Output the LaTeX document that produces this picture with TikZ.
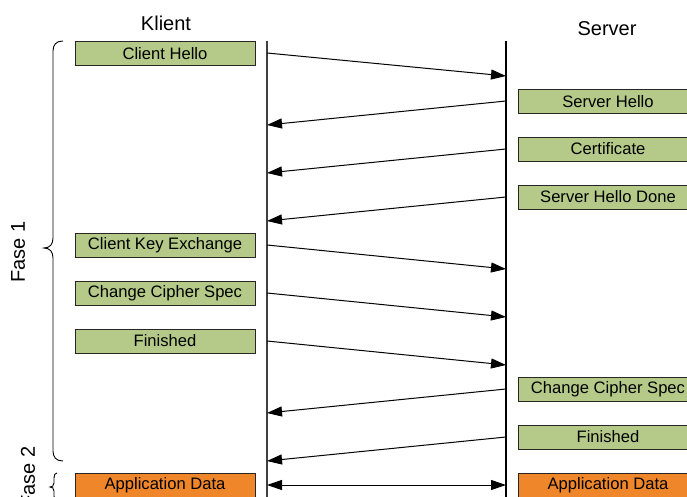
\documentclass[tikz,border=0pt]{standalone}
\usepackage{fontspec}
\setmainfont{Liberation Sans}
\usetikzlibrary{arrows.meta}
\definecolor{boxgreen}{HTML}{B5CA88}
\definecolor{boxorange}{HTML}{F0862A}
\begin{document}
\begin{tikzpicture}[x=1pt,y=-1pt,
  msgbox/.style={draw=black!85,line width=0.9pt,minimum width=180pt,minimum height=24pt,inner sep=0pt,font=\fontsize{16.6}{18}\selectfont},
  gbox/.style={msgbox,fill=boxgreen},
  obox/.style={msgbox,fill=boxorange},
  actor/.style={font=\fontsize{20}{22}\selectfont,anchor=base},
  msg/.style={line width=1pt,-{Triangle[length=15pt,width=10pt]}},
  life/.style={line width=1.1pt},
  brc/.style={line width=0.9pt},
  fase/.style={font=\fontsize{20}{22}\selectfont,rotate=90}]
\clip (0,0) rectangle (687,497);
\fill[white] (0,0) rectangle (687,497);
% actors
\node[actor] (klient) at (166,31) {Klient};
\node[actor] (server) at (607,36) {Server};
% lifelines
\coordinate (ktop) at (267,41);
\coordinate (kbot) at (267,500);
\coordinate (stop) at (506,41);
\coordinate (sbot) at (506,500);
\draw[life,black!75] (ktop) -- (kbot);
\draw[life] (stop) -- (sbot);
% client boxes
\node[gbox] (ch) at (165,53.5) {Client Hello};
\node[gbox] (cke) at (165,245) {Client Key Exchange};
\node[gbox] (ccs) at (165,293) {Change Cipher Spec};
\node[gbox] (cfin) at (165,341) {Finished};
\node[obox] (cad) at (165,485) {Application Data};
% server boxes
\node[gbox] (sh) at (608,101.5) {Server Hello};
\node[gbox] (cert) at (608,149) {Certificate};
\node[gbox] (shd) at (608,197) {Server Hello Done};
\node[gbox] (sccs) at (608,389.5) {Change Cipher Spec};
\node[gbox] (sfin) at (608,437) {Finished};
\node[obox] (sad) at (608,485) {Application Data};
% message endpoints
\coordinate (a1) at (267,53);  \coordinate (b1) at (506,76);
\coordinate (a2) at (506,101); \coordinate (b2) at (267,125);
\coordinate (a3) at (506,149); \coordinate (b3) at (267,173);
\coordinate (a4) at (506,197); \coordinate (b4) at (267,221);
\coordinate (a5) at (267,245); \coordinate (b5) at (506,269);
\coordinate (a6) at (267,293); \coordinate (b6) at (506,317);
\coordinate (a7) at (267,341); \coordinate (b7) at (506,365);
\coordinate (a8) at (506,389); \coordinate (b8) at (267,413);
\coordinate (a9) at (506,437); \coordinate (b9) at (267,461);
\coordinate (a10) at (267,485); \coordinate (b10) at (506,485);
\foreach \i in {1,...,9} {\draw[msg] (a\i) -- (b\i);}
\draw[line width=1pt,{Triangle[length=15pt,width=10pt]}-{Triangle[length=15pt,width=10pt]}] (a10) -- (b10);
% braces
\draw[brc] (63,41) .. controls (56,41) and (53,45) .. (53,51) -- (53,238)
  .. controls (53,244) and (50,248) .. (44,248)
  .. controls (50,248) and (53,252) .. (53,258) -- (53,451)
  .. controls (53,457) and (56,461) .. (63,461);
\draw[brc] (57,473) .. controls (55,473) and (54,475) .. (54,478) -- (54,483)
  .. controls (54,486) and (52,487) .. (50,487)
  .. controls (52,487) and (54,488) .. (54,491) -- (54,496)
  .. controls (54,499) and (55,501) .. (57,501);
\node[fase] (f1) at (18,252) {Fase 1};
\node[fase] (f2) at (28,477) {Fase 2};
\end{tikzpicture}
\end{document}
